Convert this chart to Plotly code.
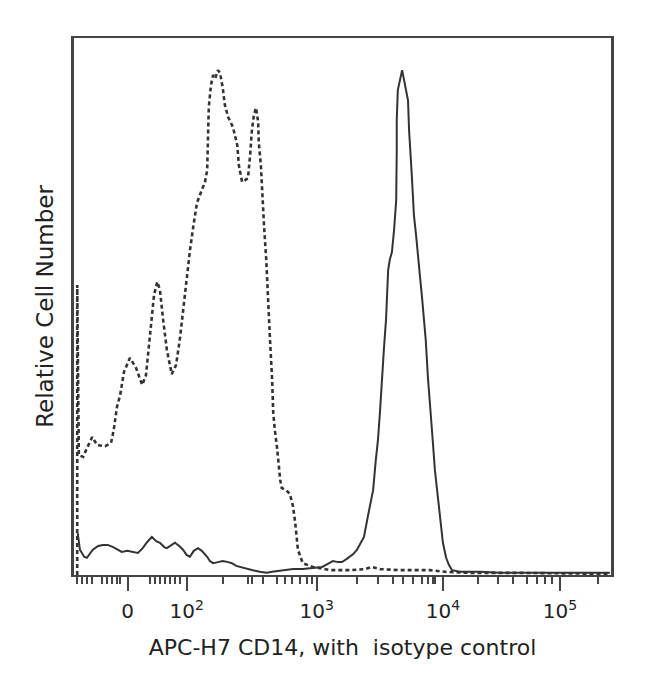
import plotly.graph_objects as go

# ---- data (display channel 0-1000 on a biexponential-like axis, relative count 0-100) ----
iso_channel = [6, 6, 9, 17, 24, 34, 43, 58, 69, 74, 80, 86, 93, 104, 115, 127, 134, 142, 149, 155,
               160, 166, 173, 182, 190, 197, 207, 216, 222, 229, 238, 244, 248, 250, 251, 255, 259,
               263, 268, 272, 277, 281, 287, 296, 304, 307, 313, 318, 324, 328, 331, 335, 339, 343,
               344, 348, 350, 352, 354, 358, 361, 365, 369, 371, 374, 378, 384, 387, 395, 402, 408,
               412, 417, 426, 445, 458, 477, 514, 542, 555, 570, 607, 663, 691, 737, 830, 979, 998]
iso_count = [0, 54.0, 22.3, 22.0, 23.6, 25.7, 24.2, 24.0, 24.6, 27.0, 31.3, 33.5, 37.8, 40.4, 38.7,
             35.4, 37.2, 45.6, 52.1, 54.6, 53.1, 47.5, 41.9, 37.4, 39.1, 43.8, 53.1, 60.5, 64.8,
             69.3, 71.7, 73.2, 75.4, 81.0, 87.1, 91.2, 93.1, 92.5, 94.0, 93.5, 90.7, 87.5, 85.3,
             83.4, 80.1, 76.3, 73.2, 73.5, 73.9, 78.2, 82.5, 85.7, 87.0, 84.3, 80.6, 76.3, 72.1,
             68.5, 64.8, 58.7, 51.2, 43.8, 36.3, 30.2, 27.0, 23.8, 17.7, 16.2, 15.8, 15.1, 12.7,
             9.7, 4.7, 2.2, 1.5, 1.3, 0.9, 0.9, 1.1, 1.5, 1.1, 0.9, 0.9, 0.6, 0.4, 0.4, 0.2, 0.2]

cd14_channel = [7, 11, 19, 24, 35, 45, 54, 63, 73, 82, 89, 99, 108, 119, 128, 136, 145, 153, 160,
                168, 173, 181, 188, 196, 203, 210, 216, 223, 231, 238, 248, 253, 259, 268, 277, 287,
                294, 302, 309, 322, 333, 346, 359, 369, 378, 393, 408, 426, 445, 462, 471, 482, 492,
                499, 508, 520, 527, 533, 540, 547, 553, 557, 562, 566, 570, 573, 577, 581, 583, 585,
                588, 592, 596, 600, 601, 601, 603, 607, 611, 614, 618, 622, 624, 626, 629, 631, 633,
                637, 641, 644, 648, 652, 655, 659, 663, 668, 672, 678, 683, 687, 693, 698, 704, 719,
                756, 793, 905, 998]
cd14_count = [7.8, 4.7, 3.4, 3.2, 4.7, 5.4, 5.6, 5.6, 5.2, 4.7, 4.3, 4.5, 4.3, 4.1, 5.0, 6.1, 7.1,
              6.3, 6.0, 5.2, 5.0, 5.6, 6.0, 5.4, 4.7, 3.7, 3.4, 4.5, 5.0, 4.5, 3.4, 2.6, 2.2, 2.4,
              2.6, 2.4, 2.2, 1.7, 1.5, 1.1, 0.9, 0.6, 0.4, 0.6, 0.7, 0.9, 1.1, 1.1, 1.3, 1.5, 2.0,
              2.6, 2.4, 2.4, 3.0, 3.9, 4.7, 5.8, 7.1, 10.8, 14.0, 15.8, 21.4, 25.1, 30.7, 36.3,
              41.9, 47.5, 51.2, 56.8, 58.7, 60.1, 64.2, 69.8, 79.1, 84.7, 90.3, 92.5, 94.0, 92.5,
              90.7, 88.4, 82.8, 80.1, 74.5, 70.8, 67.0, 63.3, 59.6, 55.9, 51.8, 47.5, 43.8, 36.9,
              30.7, 25.1, 19.6, 14.5, 9.3, 6.0, 3.2, 1.9, 0.9, 0.6, 0.6, 0.4, 0.4, 0.4]

major_tick_vals = [100, 210, 452, 687, 905]
major_tick_text = ["0", "10<sup>2</sup>", "10<sup>3</sup>", "10<sup>4</sup>", "10<sup>5</sup>"]
minor_tick_vals = [6, 15, 24, 34, 52, 61, 71, 80, 86, 142, 151, 160, 169, 179, 188, 197, 277, 324,
                   331, 352, 378, 393, 406, 421, 434, 443, 527, 566, 594, 613, 631, 648, 659, 668,
                   672, 752, 789, 817, 844, 862, 877, 890, 976]

x_title = "APC-H7 CD14, with  isotype control"
y_title = "Relative Cell Number"

ink = "#333333"

fig = go.Figure()
fig.add_trace(go.Scatter(x=iso_channel, y=iso_count, mode="lines", name="isotype control",
                         line=dict(color=ink, width=2.6, dash="4px,3px")))
fig.add_trace(go.Scatter(x=cd14_channel, y=cd14_count, mode="lines", name="APC-H7 CD14",
                         line=dict(color=ink, width=2)))

fig.update_layout(
    width=650, height=695,
    margin=dict(l=66, r=47, t=30, b=128),
    paper_bgcolor="white", plot_bgcolor="white",
    showlegend=False,
    font=dict(family="DejaVu Sans", color="#222222"),
)
fig.update_xaxes(
    range=[0, 1000], showgrid=False, zeroline=False,
    showline=True, linecolor="#444444", linewidth=2, mirror=True,
    tickmode="array", tickvals=major_tick_vals, ticktext=major_tick_text,
    ticks="outside", ticklen=14, tickwidth=2, tickcolor="#444444",
    ticklabelstandoff=3,
    tickfont=dict(size=20, family="DejaVu Sans", color="#222222"),
    minor=dict(tickmode="array", tickvals=minor_tick_vals, ticks="outside",
               ticklen=7, tickwidth=1.5, tickcolor="#444444", showgrid=False),
    title=dict(text=x_title, font=dict(size=22, family="DejaVu Sans", color="#222222"), standoff=18),
)
fig.update_yaxes(
    range=[0, 100], showgrid=False, zeroline=False,
    showline=True, linecolor="#444444", linewidth=2.5, mirror=True,
    showticklabels=False, ticks="",
    title=dict(text=y_title, font=dict(size=23, family="DejaVu Sans", color="#222222"), standoff=12),
)

fig.write_html("out.html")
